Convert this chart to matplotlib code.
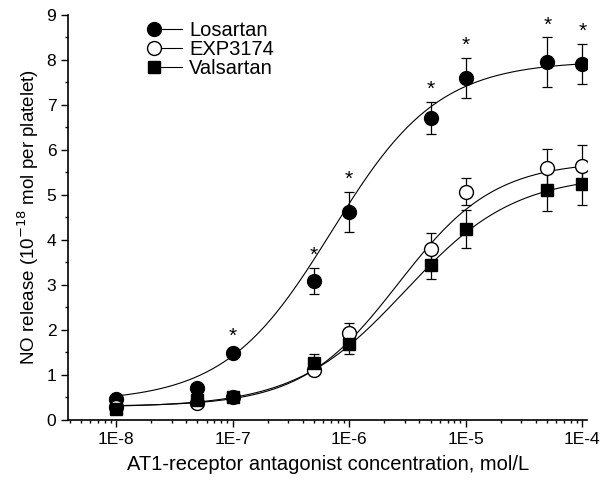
import numpy as np
import matplotlib.pyplot as plt
from matplotlib.legend_handler import HandlerLine2D

plt.rcParams['font.family'] = ['Liberation Sans', 'DejaVu Sans']

# concentrations (mol/L)
conc = [1e-8, 5e-8, 1e-7, 5e-7, 1e-6, 5e-6, 1e-5, 5e-5, 1e-4]

losartan = [0.47, 0.71, 1.49, 3.09, 4.62, 6.71, 7.60, 7.95, 7.91]
losartan_err = [0.05, 0.08, 0.10, 0.29, 0.45, 0.36, 0.45, 0.55, 0.45]
exp3174 = [0.29, 0.38, 0.50, 1.10, 1.93, 3.80, 5.07, 5.60, 5.65]
exp3174_err = [0.04, 0.05, 0.05, 0.10, 0.22, 0.35, 0.30, 0.42, 0.45]
valsartan = [0.25, 0.45, 0.50, 1.27, 1.69, 3.44, 4.24, 5.10, 5.24]
valsartan_err = [0.04, 0.05, 0.05, 0.20, 0.22, 0.30, 0.43, 0.45, 0.47]

# significant points (Losartan)
star_idx = [2, 3, 4, 5, 6, 7, 8]

# sigmoid fit parameters: bottom, top, logEC50, hill
fits = {
    'Losartan': (0.40, 7.98, -6.15, 0.95),
    'EXP3174': (0.30, 5.75, -5.58, 1.05),
    'Valsartan': (0.28, 5.45, -5.52, 0.92),
}


class MarkerLeft(HandlerLine2D):
    def create_artists(self, *args, **kwargs):
        arts = super().create_artists(*args, **kwargs)
        for a in arts:
            a.set_markevery([0])
        return arts


def sigmoid(logx, b, t, ec, h):
    return b + (t - b) / (1 + 10 ** ((ec - logx) * h))


fig = plt.figure(figsize=(6.14, 4.82), dpi=100)
ax = fig.add_axes([0.111, 0.129, 0.845, 0.840])

logx = np.linspace(-8, -4, 300)
series = [
    ('Losartan', losartan, losartan_err, 'o', 'black'),
    ('EXP3174', exp3174, exp3174_err, 'o', 'white'),
    ('Valsartan', valsartan, valsartan_err, 's', 'black'),
]
handles = []
for name, vals, err, mk, fc in series:
    ms = 10 if mk == 'o' else 9
    ax.plot(10 ** logx, sigmoid(logx, *fits[name]), color='black', lw=0.8, zorder=2)
    ax.errorbar(conc, vals, yerr=err, fmt='none', ecolor='black', elinewidth=0.9,
                capsize=3.5, capthick=0.9, zorder=3)
    ax.plot(conc, vals, linestyle='none', marker=mk, ms=ms,
            mfc=fc, mec='black', mew=1, zorder=4)
    h, = ax.plot([], [], color='black', lw=0.8, marker=mk, ms=ms,
                 mfc=fc, mec='black', mew=1, label=name)
    handles.append(h)

for i in star_idx:
    ax.annotate('*', (conc[i], losartan[i] + losartan_err[i]), xytext=(0, 2),
                textcoords='offset points', ha='center', va='bottom', fontsize=15)

ax.set_xscale('log')
ax.set_xlim(10 ** -8.41, 10 ** -3.96)
ax.set_ylim(0, 9)
ax.set_yticks(range(10))
ax.set_yticks(np.arange(0.5, 9, 1), minor=True)
ax.set_xticks([1e-8, 1e-7, 1e-6, 1e-5, 1e-4])
ax.set_xticklabels(['1E-8', '1E-7', '1E-6', '1E-5', '1E-4'])
ax.tick_params(which='major', direction='out', length=5, width=1, labelsize=12.5)
ax.tick_params(which='minor', direction='out', length=2.5, width=1)
for s in ['top', 'right']:
    ax.spines[s].set_visible(False)
for s in ['left', 'bottom']:
    ax.spines[s].set_linewidth(1.2)

ax.set_xlabel('AT1-receptor antagonist concentration, mol/L', fontsize=14.5, labelpad=6)
ax.set_ylabel('NO release (10$^{-18}$ mol per platelet)', fontsize=13.5, labelpad=4)

ax.legend(handles=handles, loc='upper left', bbox_to_anchor=(0.13, 1.03), frameon=False,
          fontsize=14.5, handlelength=1.4, handletextpad=0.35, labelspacing=0.0,
          handler_map={h: MarkerLeft(numpoints=1) for h in handles})

fig.savefig('out.png', dpi=100)
